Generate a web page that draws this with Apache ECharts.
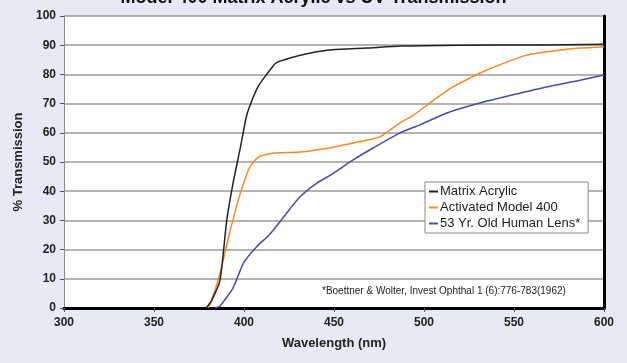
<!DOCTYPE html>
<html><head><meta charset="utf-8">
<script src="https://cdn.jsdelivr.net/npm/echarts@6/dist/echarts.min.js"></script>
<style>html,body{margin:0;padding:0;background:#e6eaf6;}#c{width:627px;height:363px;}</style>
</head><body><div id="c"></div>
<script>
const titleText = "Model 400 Matrix Acrylic vs UV Transmission";
const xTicks = [300, 350, 400, 450, 500, 550, 600];
const matrixNm = [379, 382, 386.7, 390.4, 394, 398, 401.5, 405, 408, 412.6, 418, 425.5, 437, 449, 468, 487, 520, 560, 600];
const matrixVal = [0, 2.5, 9.6, 30, 43, 55, 66, 72, 76, 80, 84, 85.6, 87.3, 88.4, 89, 89.7, 90, 90.1, 90.3];
const activatedNm = [380, 381.5, 386.7, 392, 397.8, 403, 408, 416, 431, 449, 464.4, 475.5, 486.7, 494, 505, 516, 525.6, 533, 546, 557, 571.7, 586.7, 600];
const activatedVal = [0, 1.7, 12, 25.7, 39, 48, 51.7, 53, 53.4, 55, 57, 58.6, 63.4, 66, 71, 75.7, 78.8, 81, 84.2, 86.6, 88, 89, 89.5];
const lensNm = [384, 386.7, 394, 399.7, 407, 414, 421.8, 431, 440.5, 449.4, 460.6, 471.7, 486.7, 497.8, 512.7, 531, 549.4, 568, 586.7, 600];
const lensVal = [0, 0.7, 7, 15.4, 21, 25, 31, 38, 42.8, 46, 50.7, 54.8, 60, 62.7, 66.8, 70.2, 73, 75.7, 78, 79.8];
const seriesNames = ["Matrix Acrylic", "Activated Model 400", "53 Yr. Old Human Lens*"];
const footnote = "*Boettner & Wolter, Invest Ophthal 1 (6):776-783(1962)";

const zip = (a, b) => a.map((x, i) => [x, b[i]]);
const chart = echarts.init(document.getElementById('c'));
const F = 'Liberation Sans, Arial, sans-serif';
chart.setOption({
  animation: false,
  backgroundColor: '#e6eaf6',
  title: { text: titleText, left: 'center', top: -16, textStyle: { fontFamily: F, fontSize: 18, fontWeight: 'bold', color: '#111' } },
  grid: { left: 64, right: 23, top: 16, bottom: 55, show: true, backgroundColor: '#fff', borderWidth: 0 },
  xAxis: [{
    type: 'value', min: 300, max: 600, interval: 50,
    name: 'Wavelength (nm)', nameLocation: 'middle', nameGap: 29,
    nameTextStyle: { fontFamily: F, fontSize: 13, fontWeight: 'bold', color: '#222' },
    axisLine: { lineStyle: { color: '#000', width: 3 } },
    axisTick: { show: true, length: 4, lineStyle: { color: '#555' } },
    axisLabel: { fontFamily: F, fontSize: 12, fontWeight: 'bold', color: '#222', margin: 9 },
    splitLine: { show: false }
  }, {
    type: 'value', min: 300, max: 600, position: 'top',
    axisLine: { lineStyle: { color: '#000', width: 3 } },
    axisTick: { show: false }, axisLabel: { show: false }, splitLine: { show: false }
  }],
  yAxis: [{
    type: 'value', min: 0, max: 100, interval: 10,
    name: '% Transmission', nameLocation: 'middle', nameGap: 38,
    nameTextStyle: { fontFamily: F, fontSize: 13, fontWeight: 'bold', color: '#222' },
    axisLine: { show: true, lineStyle: { color: '#888', width: 1 } },
    axisTick: { show: true, length: 4, lineStyle: { color: '#555' } },
    axisLabel: { fontFamily: F, fontSize: 12, fontWeight: 'bold', color: '#222', margin: 8 },
    splitLine: { lineStyle: { color: '#9a9a9a', width: 1.5 } }
  }, {
    type: 'value', min: 0, max: 100, position: 'right',
    axisLine: { show: true, lineStyle: { color: '#000', width: 3 } },
    axisTick: { show: false }, axisLabel: { show: false }, splitLine: { show: false }
  }],
  legend: {
    orient: 'vertical', left: 425, top: 182,
    backgroundColor: '#fff', borderColor: '#888', borderWidth: 1, borderRadius: 0,
    padding: [3, 8, 3, 4], itemGap: 3, itemWidth: 9, itemHeight: 2, icon: 'rect',
    textStyle: { fontFamily: F, fontSize: 13, color: '#222', padding: [0, 0, 0, -3] },
    data: seriesNames
  },
  graphic: [{
    type: 'text', left: 322, top: 286,
    style: { text: footnote, fontFamily: F, fontSize: 10, fill: '#222' }
  }],
  series: [
    { name: seriesNames[0], type: 'line', data: zip(matrixNm, matrixVal), showSymbol: false, smooth: 0.2, lineStyle: { color: '#222', width: 1.5 }, itemStyle: { color: '#222' }, z: 4 },
    { name: seriesNames[1], type: 'line', data: zip(activatedNm, activatedVal), showSymbol: false, smooth: 0.2, lineStyle: { color: '#f58a2e', width: 1.5 }, itemStyle: { color: '#f58a2e' }, z: 3 },
    { name: seriesNames[2], type: 'line', data: zip(lensNm, lensVal), showSymbol: false, smooth: 0.2, lineStyle: { color: '#4a4aa8', width: 1.5 }, itemStyle: { color: '#4a4aa8' }, z: 2 }
  ]
});
</script></body></html>
